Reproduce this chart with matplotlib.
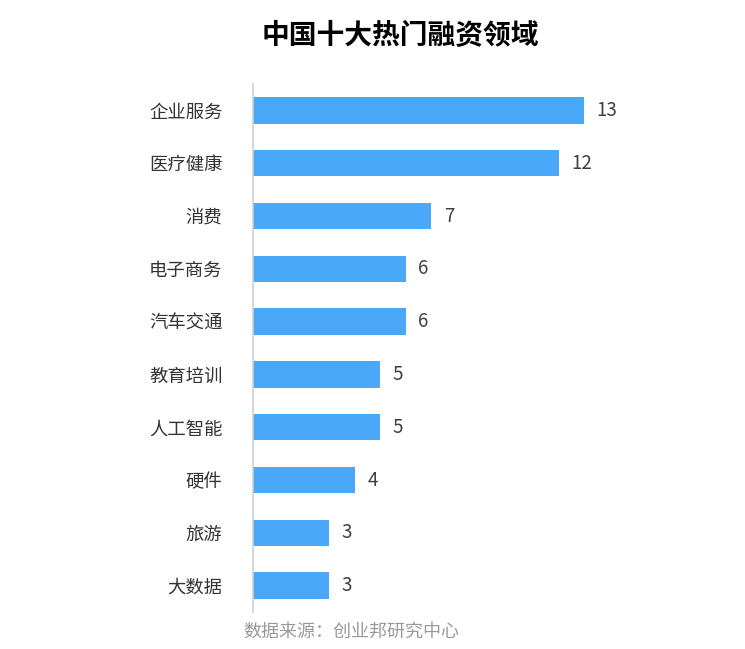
import matplotlib
matplotlib.use("Agg")
import matplotlib.pyplot as plt

plt.rcParams['font.family'] = ['Noto Sans CJK SC', 'DejaVu Sans']

categories = ["企业服务", "医疗健康", "消费", "电子商务", "汽车交通",
              "教育培训", "人工智能", "硬件", "旅游", "大数据"]
counts = [13, 12, 7, 6, 6, 5, 5, 4, 3, 3]

fig = plt.figure(figsize=(7.45, 6.49), dpi=100)
ax = fig.add_axes([253 / 745, 1 - 612 / 649, 382 / 745, 528 / 649])

ypos = list(range(len(categories)))
ax.barh(ypos, counts, height=0.5, color="#4AA8F8")
ax.set_xlim(0, 15)
ax.set_ylim(len(categories) - 0.5, -0.5)

for y, v in zip(ypos, counts):
    ax.annotate(str(v), (v, y), xytext=(9, 0), textcoords="offset points",
                va="center", ha="left", fontsize=13.5, color="#404040")

ax.set_yticks(ypos)
ax.set_yticklabels(categories, fontsize=13.2, color="#333333")
ax.tick_params(axis="y", length=0, pad=22)
ax.set_xticks([])
for side in ["top", "right", "bottom"]:
    ax.spines[side].set_visible(False)
ax.spines["left"].set_color("#d0d0d0")
ax.spines["left"].set_linewidth(1.2)

fig.text(400 / 745, 1 - 36 / 649, "中国十大热门融资领域", ha="center", va="center",
         fontsize=20, fontweight="bold", color="#000000")
fig.text(351 / 745, 1 - 632 / 649, "数据来源：创业邦研究中心", ha="center", va="center",
         fontsize=13, color="#999999")

fig.savefig("out.png", dpi=100)
